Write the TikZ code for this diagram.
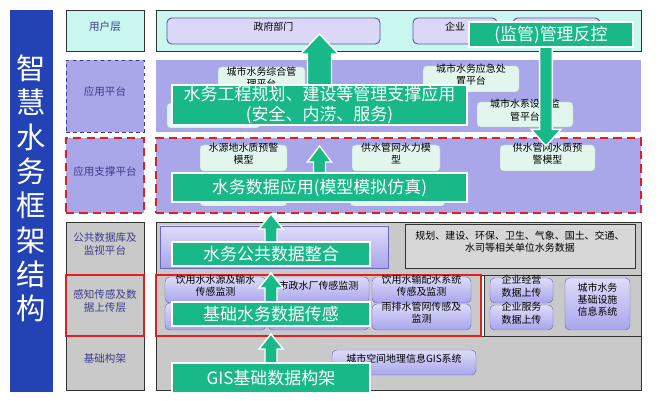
\documentclass[tikz,border=0pt]{standalone}
\usepackage{fontspec}
\setmainfont{Noto Sans CJK SC}
\usepackage{xcolor}
\usepackage{tikz}
\usetikzlibrary{arrows.meta, positioning, fit, calc}

\definecolor{titleblue}{HTML}{2343B5}
\definecolor{wgreen}{HTML}{19B889}
\definecolor{usrfill}{HTML}{C9F6EE}
\definecolor{lav}{HTML}{A9A6E9}
\definecolor{grayfill}{HTML}{C9C9C9}
\definecolor{lightgray}{HTML}{D7D7D7}
\definecolor{framegray}{HTML}{333333}
\definecolor{lblnavy}{HTML}{3C3C8C}
\definecolor{palefill}{HTML}{E2F6EE}
\definecolor{palebd}{HTML}{A8CFC0}
\definecolor{sentop}{HTML}{DEDCF9}
\definecolor{senbot}{HTML}{A8A4EC}
\definecolor{senbd}{HTML}{6A66C4}
\definecolor{usrbox}{HTML}{DAD8F6}
\definecolor{usrbd}{HTML}{5A5A9A}
\definecolor{alarmred}{HTML}{E02020}

\newcommand{\lblfont}{\fontsize{9}{11}\selectfont}
\newcommand{\boxfont}{\fontsize{8.5}{10.5}\selectfont}
\newcommand{\callfont}{\fontsize{14.5}{17}\selectfont}
\newcommand{\bigtitlefont}{\fontsize{25}{29.3}\selectfont}

% thick flow arrow: tail, tip, shaft half width, head half width, head length
\newcommand{\flowarrow}[5]{%
  \coordinate (hb) at ($(#2)!#5!(#1)$);
  \filldraw[flowarr]
    ($(#1)!#3!90:(#2)$) -- ($(hb)!#3!90:(#2)$) -- ($(hb)!#4!90:(#2)$) -- (#2)
    -- ($(hb)!#4!-90:(#2)$) -- ($(hb)!#3!-90:(#2)$) -- ($(#1)!#3!-90:(#2)$) -- cycle;
}

\begin{document}
\begin{tikzpicture}[x=0.03cm, y=-0.03cm,
    area/.style={draw=framegray, line width=0.8pt, inner sep=0pt},
    lbl/.style={area, text=lblnavy, font=\lblfont, align=center},
    pale/.style={draw=palebd, fill=palefill, rounded corners=3pt, inner sep=0pt, font=\boxfont, align=center},
    sensor/.style={draw=senbd, top color=sentop, bottom color=senbot, rounded corners=4pt, inner sep=0pt, font=\boxfont, align=center},
    usr/.style={draw=usrbd, fill=usrbox, rounded corners=4pt, line width=0.8pt, inner sep=0pt, font=\boxfont},
    callout/.style={fill=wgreen, draw=white, line width=1.5pt, text=white, font=\callfont, inner sep=0pt, align=center},
    flowarr/.style={fill=wgreen, draw=white, line width=1.2pt},
    reddash/.style={draw=alarmred, line width=2pt, dash pattern=on 7pt off 4.5pt}
]
\useasboundingbox (0,0) rectangle (660,401);

% Title bar
\node[fill=titleblue, inner sep=0pt, text=white, font=\bigtitlefont, align=center,
      fit={(10,10) (53,392)}] (title) {智\\慧\\水\\务\\框\\架\\结\\构};

% Layer labels
\node[lbl, fill=usrfill, fit={(66,10) (144,51)}] (lUser) {用户层};
\node[lbl, fill=lav, draw=lblnavy, dashed, fit={(66,60) (144,132)}] (lApp) {应用平台};
\node[lbl, fill=lav, reddash, fit={(66,138) (144,213)}] (lSup) {应用支撑平台};
\node[lbl, fill=grayfill, fit={(66,222) (144,275)}] (lPub) {公共数据库及\\监视平台};
\node[lbl, fill=grayfill, fit={(66,336) (144,390)}] (lBase) {基础构架};
\node[lbl, fill=grayfill, draw=alarmred, line width=1.5pt, fit={(66,275) (144,336)}] (lSen) {感知传感及数\\据上传层};

% Layer areas
\node[area, fill=usrfill, fit={(156,10) (641,51)}] (rUser) {};
\node[inner sep=0pt, fill=lav, fit={(156,60) (641,132)}] (rApp) {};
\node[inner sep=0pt, fill=lav, reddash, fit={(156,138) (641,213)}] (rSup) {};
\node[area, fill=grayfill, fit={(156,222) (641,275)}] (rPub) {};
\node[area, fill=grayfill, fit={(156,336) (641,390)}] (rBase) {};
\node[area, fill=grayfill, draw=alarmred, line width=1.5pt, fit={(156,275) (481,336)}] (rSenA) {};
\node[area, fill=grayfill, fit={(484,275) (641,336)}] (rSenB) {};

% User layer
\node[usr, fit={(167,18) (380,44)}] (gov) {政府部门};
\node[usr, fit={(413,18) (497,44)}] (ent) {企业};
\node[usr, fit={(513,18) (600,44)}] (pub) {};

% Application platform
\node[pale, fit={(218,67) (305,97)}] (ap1) {城市水务综合管\\理平台};
\node[pale, fit={(167,103) (260,128)}] (ap2) {};
\node[pale, fit={(423,66) (519,92)}] (ap3) {城市水务应急处\\置平台};
\node[pale, fit={(477,102) (573,127)}] (ap4) {城市水系设施监\\管平台};

% Application support
\node[pale, fit={(200,145) (287,171)}] (sp1) {水源地水质预警\\模型};
\node[pale, fit={(352,145) (440,171)}] (sp2) {供水管网水力模\\型};
\node[pale, fit={(500,145) (595,171)}] (sp3) {供水管网水质预\\警模型};
\node[pale, fit={(200,180) (287,206)}] (sp4) {};
\node[pale, fit={(350,180) (445,206)}] (sp5) {};

% Public data
\node[draw=senbd, top color=sentop, bottom color=senbot, inner sep=0pt, fit={(160,226) (388,268)}] (pubBox) {};
\node[area, fill=lightgray, font=\boxfont, align=center, fit={(405,224) (635,268)}] (pubOther)
  {规划、建设、环保、卫生、气象、国土、交通、\\水司等相关单位水务数据};

% Sensing layer
\node[sensor, fit={(165,277) (266,303)}] (sn1) {饮用水水源及输水\\传感监测};
\node[sensor, fit={(165,303) (266,330)}] (sn2) {};
\node[sensor, fit={(268,277) (369,303)}] (sn3) {市政水厂传感监测};
\node[sensor, fit={(268,303) (369,330)}] (sn4) {};
\node[sensor, fit={(372,277) (471,303)}] (sn5) {饮用水输配水系统\\传感及监测};
\node[sensor, fit={(372,304) (471,330)}] (sn6) {雨排水管网传感及\\监测};
\node[sensor, fit={(490,278) (553,303)}] (sn7) {企业经营\\数据上传};
\node[sensor, fit={(490,305) (553,330)}] (sn8) {企业服务\\数据上传};
\node[sensor, fit={(565,278) (630,330)}] (sn9) {城市水务\\基础设施\\信息系统};

% Base layer
\node[sensor, fit={(332,350) (476,375)}] (gis) {城市空间地理信息GIS系统};

% Callout centres and arrow tips
\coordinate (wkMid) at (319.5,105);
\coordinate (jgMid) at (551,34.5);
\coordinate (sjMid) at (319.5,187.5);
\coordinate (ggMid) at (271,254);
\coordinate (cgMid) at (271,314);
\coordinate (gisMid) at (271,378);
\coordinate (tipUser) at (wkMid |- 0,34);
\coordinate (tipApp) at (sjMid |- 0,146);
\coordinate (tipSup) at (ggMid |- 0,214);
\coordinate (tipPub) at (cgMid |- 0,273);
\coordinate (tipSen) at (gisMid |- 0,334);
\coordinate (tipJg) at (546,146);
\coordinate (jgTail) at (jgMid -| tipJg);

% Flow arrows
\flowarrow{wkMid}{tipUser}{0.36cm}{0.57cm}{0.6cm}
\flowarrow{sjMid}{tipApp}{0.18cm}{0.36cm}{0.48cm}
\flowarrow{ggMid}{tipSup}{0.18cm}{0.36cm}{0.45cm}
\flowarrow{cgMid}{tipPub}{0.18cm}{0.36cm}{0.45cm}
\flowarrow{gisMid}{tipSen}{0.18cm}{0.36cm}{0.45cm}
\flowarrow{jgTail}{tipJg}{0.19cm}{0.45cm}{0.5cm}

% Callouts
\node[callout, minimum width=8.85cm, minimum height=1.2cm] (cWk) at (wkMid) {水务工程规划、建设等管理支撑应用\\(安全、内涝、服务)};
\node[callout, minimum width=4.92cm, minimum height=0.75cm] (cJg) at (jgMid) {(监管)管理反控};
\node[callout, minimum width=8.85cm, minimum height=0.87cm] (cSj) at (sjMid) {水务数据应用(模型模拟仿真)};
\node[callout, minimum width=5.94cm, minimum height=0.72cm] (cGg) at (ggMid) {水务公共数据整合};
\node[callout, minimum width=5.94cm, minimum height=0.72cm] (cCg) at (cgMid) {基础水务数据传感};
\node[callout, minimum width=5.94cm, minimum height=0.9cm] (cGis) at (gisMid) {GIS基础数据构架};

\end{tikzpicture}
\end{document}
